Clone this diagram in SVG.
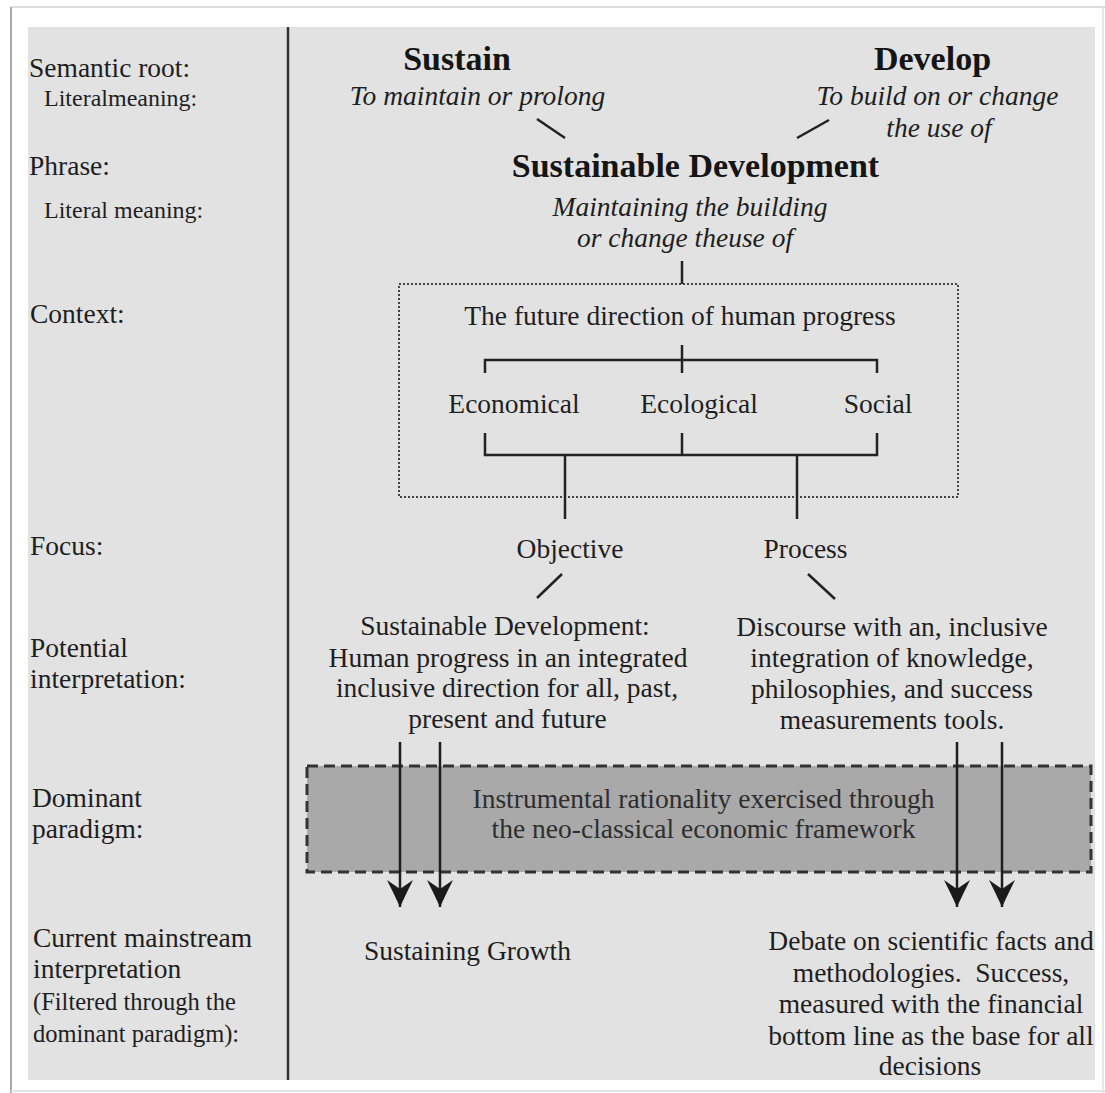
<svg xmlns="http://www.w3.org/2000/svg" width="1105" height="1093" viewBox="0 0 1105 1093">
<style>
text{font-family:"Liberation Serif","Times New Roman",serif;fill:#1e1e1e;}
.lab{font-size:27.5px;}
.sub{font-size:24px;}
.sub2{font-size:24.5px;}
.body{font-size:27.5px;text-anchor:middle;}
.it{font-size:27.5px;font-style:italic;text-anchor:middle;}
.bold{font-size:34px;font-weight:bold;text-anchor:middle;fill:#151515;}
.dom{font-size:27.5px;text-anchor:middle;fill:#2e2e2e;}
.ln{stroke:#222;stroke-width:2.5;fill:none;}
.arr{stroke:#1e1e1e;stroke-width:2.5;fill:none;marker-end:url(#ah);}
</style>
<defs>
<clipPath id="page"><rect x="28" y="27" width="1067" height="1053"/></clipPath>
<marker id="ah" markerUnits="userSpaceOnUse" viewBox="-1 -14 29 28" refX="27" refY="0" markerWidth="29" markerHeight="28" orient="auto">
<path d="M0,-13 Q14,-6 27,0 Q14,6 0,13 L9,0 Z" fill="#1a1a1a"/>
</marker>
</defs>
<rect x="0" y="0" width="1105" height="1093" fill="#ffffff"/>
<line x1="11" y1="7" x2="1105" y2="7" stroke="#dcdcdc" stroke-width="2"/>
<line x1="11" y1="7" x2="11" y2="1093" stroke="#a8a8a8" stroke-width="2"/>
<line x1="11" y1="1091" x2="1105" y2="1091" stroke="#e4e4e4" stroke-width="2"/>
<line x1="1103" y1="7" x2="1103" y2="1093" stroke="#e6e6e6" stroke-width="2"/>
<g clip-path="url(#page)">
<rect x="28" y="27" width="1067" height="1053" fill="#e2e2e2"/>
<line x1="288" y1="27" x2="288" y2="1080" stroke="#333" stroke-width="2.5"/>

<g id="row-labels">
<text class="lab" x="29" y="77">Semantic root:</text>
<text class="sub" x="44" y="106">Literalmeaning:</text>
<text class="lab" x="29" y="175">Phrase:</text>
<text class="sub" x="44" y="218">Literal meaning:</text>
<text class="lab" x="30" y="323">Context:</text>
<text class="lab" x="30" y="555">Focus:</text>
<text class="lab" x="30" y="657">Potential</text>
<text class="lab" x="30" y="688">interpretation:</text>
<text class="lab" x="32" y="807">Dominant</text>
<text class="lab" x="32" y="838">paradigm:</text>
<text class="lab" x="33" y="947">Current mainstream</text>
<text class="lab" x="33" y="978">interpretation</text>
<text class="sub2" x="33" y="1010">(Filtered through the</text>
<text class="sub2" x="33" y="1042">dominant paradigm):</text>
</g>

<g id="node-dominant-paradigm">
<rect x="307" y="766" width="784" height="106" fill="#a9a9a9" stroke="#333" stroke-width="3" stroke-dasharray="11 6"/>
<text class="dom" x="703.5" y="808">Instrumental rationality exercised through</text>
<text class="dom" x="703.5" y="838">the neo-classical economic framework</text>
</g>

<g id="node-context-box">
<rect x="399" y="284" width="559" height="213" fill="none" stroke="#444" stroke-width="2" stroke-dasharray="2 2"/>
</g>

<g id="node-sustain">
<text class="bold" x="457" y="70">Sustain</text>
<text class="it" x="477.5" y="105">To maintain or prolong</text>
</g>
<g id="node-develop">
<text class="bold" x="932.5" y="70">Develop</text>
<text class="it" x="937.5" y="105">To build on or change</text>
<text class="it" x="939" y="137">the use of</text>
</g>
<g id="node-phrase">
<text class="bold" x="695.5" y="177">Sustainable Development</text>
<text class="it" x="690" y="216">Maintaining the building</text>
<text class="it" x="685" y="247">or change theuse of</text>
</g>
<g id="node-future">
<text class="body" x="680" y="325">The future direction of human progress</text>
</g>
<g id="node-economical"><text class="body" x="514" y="413">Economical</text></g>
<g id="node-ecological"><text class="body" x="699" y="413">Ecological</text></g>
<g id="node-social"><text class="body" x="878" y="413">Social</text></g>
<g id="node-objective"><text class="body" x="570" y="558">Objective</text></g>
<g id="node-process"><text class="body" x="805.5" y="558">Process</text></g>
<g id="node-objective-interp">
<text class="body" x="505" y="635">Sustainable Development:</text>
<text class="body" x="508" y="667">Human progress in an integrated</text>
<text class="body" x="507" y="697">inclusive direction for all, past,</text>
<text class="body" x="507.5" y="728">present and future</text>
</g>
<g id="node-process-interp">
<text class="body" x="892" y="636">Discourse with an, inclusive</text>
<text class="body" x="892" y="667">integration of knowledge,</text>
<text class="body" x="892" y="698">philosophies, and success</text>
<text class="body" x="892" y="729">measurements tools.</text>
</g>
<g id="node-sustaining-growth">
<text class="body" x="467.5" y="960">Sustaining Growth</text>
</g>
<g id="node-debate">
<text class="body" x="931" y="950">Debate on scientific facts and</text>
<text class="body" x="931" y="982">methodologies.&#160; Success,</text>
<text class="body" x="931" y="1013">measured with the financial</text>
<text class="body" x="931" y="1045">bottom line as the base for all</text>
<text class="body" x="930" y="1075">decisions</text>
</g>

<g id="connectors">
<line class="ln" x1="537" y1="119" x2="565" y2="138"/>
<line class="ln" x1="797" y1="138" x2="829" y2="120"/>
<line class="ln" x1="682" y1="261" x2="682" y2="284"/>
<line class="ln" x1="682" y1="345" x2="682" y2="373"/>
<polyline class="ln" points="485,373 485,360 877,360 877,373"/>
<polyline class="ln" points="485,433 485,455 877,455 877,433"/>
<line class="ln" x1="682" y1="433" x2="682" y2="455"/>
<line class="ln" x1="565" y1="455" x2="565" y2="519"/>
<line class="ln" x1="797" y1="455" x2="797" y2="519"/>
<line class="ln" x1="537" y1="598" x2="562" y2="574"/>
<line class="ln" x1="808" y1="574" x2="835" y2="599"/>
<line class="arr" x1="400" y1="742" x2="400" y2="907"/>
<line class="arr" x1="440" y1="742" x2="440" y2="907"/>
<line class="arr" x1="957" y1="742" x2="957" y2="907"/>
<line class="arr" x1="1002" y1="742" x2="1002" y2="907"/>
</g>
</g>
</svg>
